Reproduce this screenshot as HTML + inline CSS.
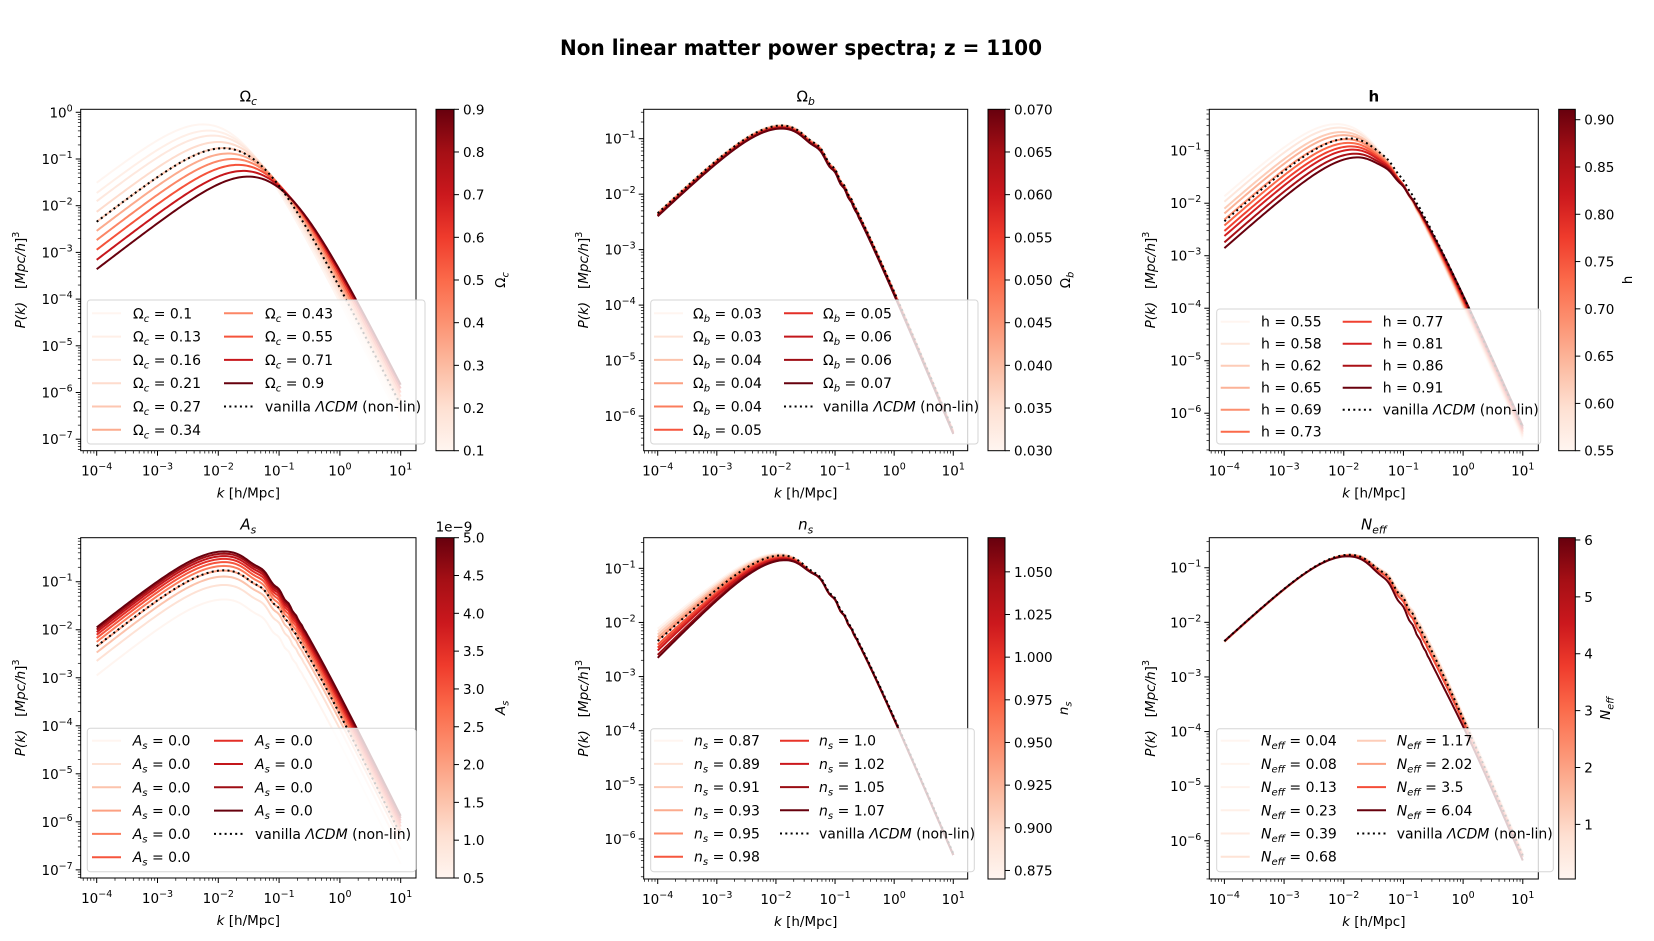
<!DOCTYPE html>
<html><head><meta charset="utf-8"><title>Non linear matter power spectra</title>
<style>
html,body{margin:0;padding:0;background:#fff;}
svg{display:block;font-family:"DejaVu Sans","Liberation Sans",sans-serif;}
</style></head>
<body>
<svg id="fig" width="1654" height="941" viewBox="0 0 1654 941" xmlns="http://www.w3.org/2000/svg">
<defs>
<linearGradient id="redsGrad" x1="0" y1="1" x2="0" y2="0">
<stop offset="0" stop-color="#fff5f0"/><stop offset="0.125" stop-color="#fee0d2"/><stop offset="0.25" stop-color="#fcbba1"/><stop offset="0.375" stop-color="#fc9272"/><stop offset="0.5" stop-color="#fb6a4a"/><stop offset="0.625" stop-color="#ef3b2c"/><stop offset="0.75" stop-color="#cb181d"/><stop offset="0.875" stop-color="#a50f15"/><stop offset="1" stop-color="#67000d"/>
</linearGradient>
</defs>
<text x="801" y="55" text-anchor="middle" font-size="21" font-weight="bold" textLength="482" lengthAdjust="spacingAndGlyphs">Non linear matter power spectra; z = 1100</text>
</svg>
<script>
// ---- data ----
const vanillaPeakK = 0.012;
const vanillaPeakP = 0.17;

const ocValues = [0.1, 0.13, 0.16, 0.21, 0.27, 0.34, 0.43, 0.55, 0.71, 0.9];
const ocPeakK = [0.0056, 0.00687, 0.00808, 0.00998, 0.01215, 0.01453, 0.01744, 0.02114, 0.0258, 0.031];
const ocPeakP = [0.55, 0.405, 0.317, 0.231, 0.172, 0.131, 0.0999, 0.0749, 0.0556, 0.042];

const obValues = [0.030, 0.0344, 0.0389, 0.0433, 0.0478, 0.0522, 0.0567, 0.0611, 0.0656, 0.070];
const obLabels = ['0.03', '0.03', '0.04', '0.04', '0.04', '0.05', '0.05', '0.06', '0.06', '0.07'];
const obPeakK = [0.012, 0.012, 0.012, 0.012, 0.012, 0.012, 0.012, 0.012, 0.012, 0.012];
const obPeakP = [0.175, 0.172, 0.169, 0.166, 0.163, 0.160, 0.157, 0.154, 0.152, 0.150];

const hValues = [0.55, 0.58, 0.62, 0.65, 0.69, 0.73, 0.77, 0.81, 0.86, 0.91];
const hPeakK = [0.0075, 0.00818, 0.00911, 0.00984, 0.01085, 0.01189, 0.01296, 0.01407, 0.01551, 0.0170];
const hPeakP = [0.32, 0.274, 0.226, 0.197, 0.165, 0.140, 0.120, 0.104, 0.087, 0.074];

const asValues = [0.5, 1.0, 1.5, 2.0, 2.5, 3.0, 3.5, 4.0, 4.5, 5.0];
const asPeakK = [0.012, 0.012, 0.012, 0.012, 0.012, 0.012, 0.012, 0.012, 0.012, 0.012];
const asPeakP = [0.042, 0.084, 0.126, 0.168, 0.21, 0.252, 0.294, 0.336, 0.378, 0.42];

const nsValues = [0.87, 0.89, 0.91, 0.93, 0.95, 0.98, 1.0, 1.02, 1.05, 1.07];
const nsLabels = ['0.87', '0.89', '0.91', '0.93', '0.95', '0.98', '1.0', '1.02', '1.05', '1.07'];
const nsPeakK = [0.012, 0.012, 0.012, 0.012, 0.012, 0.012, 0.012, 0.012, 0.012, 0.012];
const nsPeakP = [0.16, 0.16, 0.16, 0.16, 0.16, 0.16, 0.16, 0.16, 0.16, 0.16];

const neffValues = [0.04, 0.08, 0.13, 0.23, 0.39, 0.68, 1.17, 2.02, 3.5, 6.04];
const neffPeakK = [0.0125, 0.0125, 0.0125, 0.0125, 0.0125, 0.0124, 0.0123, 0.0121, 0.0118, 0.0113];
const neffPeakP = [0.17, 0.17, 0.17, 0.17, 0.17, 0.17, 0.17, 0.168, 0.165, 0.16];
const neffDip = [0.03, 0.03, 0.03, 0.03, 0.03, 0.02, 0.01, -0.02, -0.07, -0.15];

const cbTicks1 = [0.1, 0.2, 0.3, 0.4, 0.5, 0.6, 0.7, 0.8, 0.9];
const cbTicks2 = [0.030, 0.035, 0.040, 0.045, 0.050, 0.055, 0.060, 0.065, 0.070];
const cbTicks3 = [0.55, 0.60, 0.65, 0.70, 0.75, 0.80, 0.85, 0.90];
const cbTicks4 = [0.5, 1.0, 1.5, 2.0, 2.5, 3.0, 3.5, 4.0, 4.5, 5.0];
const cbTicks5 = [0.875, 0.900, 0.925, 0.950, 0.975, 1.000, 1.025, 1.050];
const cbTicks6 = [1, 2, 3, 4, 5, 6];

// ---- layout ----
const NS = 'http://www.w3.org/2000/svg';
const svg = document.getElementById('fig');
function mk(tag, attrs, parent) {
  const e = document.createElementNS(NS, tag);
  for (const k in attrs) e.setAttribute(k, attrs[k]);
  (parent || svg).appendChild(e);
  return e;
}
const REDS = ['#fff5f0','#fee0d2','#fcbba1','#fc9272','#fb6a4a','#ef3b2c','#cb181d','#a50f15','#67000d'];
function hex(c){return [parseInt(c.slice(1,3),16),parseInt(c.slice(3,5),16),parseInt(c.slice(5,7),16)];}
function reds(t){
  t=Math.max(0,Math.min(1,t)); const p=t*8; const i=Math.min(7,Math.floor(p)); const f=p-i;
  const a=hex(REDS[i]), b=hex(REDS[i+1]);
  return 'rgb('+a.map((v,j)=>Math.round(v+(b[j]-v)*f)).join(',')+')';
}
// spectrum shape (broken power law in log space)
const S1 = 1.0, S2 = -2.55;
function sp(u){return Math.log10(1+Math.pow(10,u));}
const X0 = -Math.log10((S1/(S1-S2))/(1-S1/(S1-S2)));
const F0 = -(S1-S2)*sp(-X0);
function logP(k, kp, Pp, opt){
  const x = Math.log10(k/kp);
  let f = S1*x - (S1-S2)*sp(x - X0) - F0;
  let v = Math.log10(Pp) + f;
  if (opt.ns !== undefined) v += (opt.ns-0.965)*Math.min(0, Math.log10(k/0.05));
  if (opt.dip) v += opt.dip*Math.exp(-Math.pow((Math.log10(k)+0.6)/0.6,2));
  if (opt.wig) v += opt.wig*Math.sin(2*Math.PI*k/0.045)*Math.exp(-Math.pow(k/0.2,2))*(1-Math.exp(-Math.pow(k/0.025,2)));
  return v;
}

const panels = [
 {id:'omega-c', L:80.7,R:416,T:109.3,B:450.7, xl:-4.263,xr:1.252, yb:-7.246,yt:0.064,
  vals:ocValues, pk:ocPeakK, pp:ocPeakP, vmin:0.1,vmax:0.9, lab:v=>String(v), sym:'Oc', wig:0,
  cb:[436,454], cbT:cbTicks1, cbF:v=>v.toFixed(1), cbLx:500,
  leg:{x:87.3,y:300,w:337.7,h:144,l1:92,t1:133,l2:224,t2:265,r0:313.3,dr:23.3}, ylx:20},
 {id:'omega-b', L:643.7,R:967.7,T:109.3,B:450.7, xl:-4.237,xr:1.244, yb:-6.625,yt:-0.47,
  vals:obValues, pk:obPeakK, pp:obPeakP, vmin:0.03,vmax:0.07, lab:(v,i)=>obLabels[i], sym:'Ob', wig:0.035, idxColor:true,
  cb:[988,1005], cbT:cbTicks2, cbF:v=>v.toFixed(3), cbLx:1065,
  leg:{x:650.7,y:300,w:327.3,h:144,l1:654,t1:693,l2:784,t2:823,r0:313.3,dr:23.3}, ylx:583},
 {id:'h', L:1209.3,R:1538.3,T:109.3,B:450.7, xl:-4.253,xr:1.26, yb:-6.714,yt:-0.211,
  vals:hValues, pk:hPeakK, pp:hPeakP, vmin:0.55,vmax:0.911, lab:v=>v.toFixed(2), sym:'h', wig:0.015,
  cb:[1558.7,1575.3], cbT:cbTicks3, cbF:v=>v.toFixed(2), cbLx:1627,
  leg:{x:1216.7,y:309,w:324,h:135,l1:1220.7,t1:1261,l2:1342.7,t2:1382.7,r0:321.7,dr:22}, ylx:1150},
 {id:'a-s', L:80.7,R:416,T:537.7,B:878, xl:-4.263,xr:1.252, yb:-7.17,yt:-0.083,
  vals:asValues, pk:asPeakK, pp:asPeakP, vmin:0.5,vmax:5.0, lab:v=>'0.0', sym:'As', wig:0.035,
  cb:[436,454], cbT:cbTicks4, cbF:v=>v.toFixed(1), cbLx:500, exp:true,
  leg:{x:87.3,y:728.3,w:328.4,h:143.4,l1:92,t1:132.7,l2:214,t2:255,r0:740.7,dr:23.3}, ylx:20},
 {id:'n-s', L:643.7,R:967.7,T:537.7,B:879, xl:-4.237,xr:1.244, yb:-6.74,yt:-0.434,
  vals:nsValues, pk:nsPeakK, pp:nsPeakP, vmin:0.87,vmax:1.07, lab:(v,i)=>nsLabels[i], sym:'ns', wig:0.035, tilt:true,
  cb:[988,1005], cbT:cbTicks5, cbF:v=>v.toFixed(3), cbLx:1063,
  leg:{x:650.7,y:728.7,w:323.6,h:143,l1:654,t1:694,l2:780,t2:819,r0:740.7,dr:23.2}, ylx:583},
 {id:'n-eff', L:1209.3,R:1538.3,T:537.7,B:879, xl:-4.253,xr:1.26, yb:-6.70,yt:-0.45,
  vals:neffValues, pk:neffPeakK, pp:neffPeakP, vmin:0.04,vmax:6.04, lab:v=>String(v), sym:'Neff', wig:0.035, dip:neffDip,
  cb:[1558.7,1575.3], cbT:cbTicks6, cbF:v=>String(v), cbLx:1605,
  leg:{x:1216.7,y:728.7,w:336.6,h:143,l1:1220.7,t1:1261,l2:1357,t2:1396.7,r0:740.7,dr:23.2}, ylx:1150}
];

function symSpans(t, sym, size){
  // appends math symbol spans to text element t
  const sub = size*0.72;
  function add(txt, attrs){const s=mk('tspan',attrs,t); s.textContent=txt; return s;}
  if (sym==='Oc'||sym==='Ob'){ add('Ω',{}); add(sym==='Oc'?'c':'b',{'font-style':'italic','font-size':sub,dy:size*0.25}); return size*0.25; }
  if (sym==='As'){ add('A',{'font-style':'italic'}); add('s',{'font-style':'italic','font-size':sub,dy:size*0.25}); return size*0.25; }
  if (sym==='ns'){ add('n',{'font-style':'italic'}); add('s',{'font-style':'italic','font-size':sub,dy:size*0.25}); return size*0.25; }
  if (sym==='Neff'){ add('N',{'font-style':'italic'}); add('eff',{'font-style':'italic','font-size':sub,dy:size*0.25}); return size*0.25; }
  add('h',{}); return 0;
}

panels.forEach((p, pi) => {
  const g = mk('g', {});
  
  
  const X = lk => p.L + (lk - p.xl) / (p.xr - p.xl) * (p.R - p.L);
  const Y = lp => p.B - (lp - p.yb) / (p.yt - p.yb) * (p.B - p.T);
  const clipId = 'clip' + pi;
  const cp = mk('clipPath', {id: clipId}, g);
  mk('rect', {x:p.L, y:p.T, width:p.R-p.L, height:p.B-p.T}, cp);

  // title
  const tt = mk('text', {x:(p.L+p.R)/2, y:p.T-8, 'text-anchor':'middle', 'font-size':15, 'font-weight': p.sym==='h'?'bold':'normal'}, g);
  
  
  symSpans(tt, p.sym, 15);

  // curves
  const curves = mk('g', {'clip-path':'url(#'+clipId+')'}, g);
  
  
  const N = 160;
  const colors = [];
  p.vals.forEach((v, i) => {
    const t = p.idxColor ? i/(p.vals.length-1) : (v - p.vmin)/(p.vmax - p.vmin);
    const col = reds(t); colors.push(col);
    const opt = {wig:p.wig};
    if (p.tilt) opt.ns = v;
    if (p.dip) opt.dip = p.dip[i];
    let d = '';
    for (let j=0;j<=N;j++){
      const lk = -4 + 5*j/N; const k = Math.pow(10, lk);
      d += (j?'L':'M') + X(lk).toFixed(2) + ',' + Y(logP(k, p.pk[i], p.pp[i], opt)).toFixed(2);
    }
    const path = mk('path', {d:d, fill:'none', stroke:col, 'stroke-width':2}, curves);
    
    
  });
  // vanilla
  {
    let d='';
    const opt={wig:p.wig};
    if (p.tilt) opt.ns = 0.965;
    for (let j=0;j<=N;j++){
      const lk=-4+5*j/N; const k=Math.pow(10,lk);
      d += (j?'L':'M') + X(lk).toFixed(2) + ',' + Y(logP(k, vanillaPeakK, vanillaPeakP, opt)).toFixed(2);
    }
    const vp = mk('path', {d:d, fill:'none', stroke:'#000', 'stroke-width':2, 'stroke-dasharray':'2,3.3'}, curves);
    
    
  }

  // axes frame
  const fr = mk('rect', {x:p.L, y:p.T, width:p.R-p.L, height:p.B-p.T, fill:'none', stroke:'#000', 'stroke-width':1}, g);
  
  

  // x ticks
  const xt = mk('g', {}, g);
  
  
  for (let n=-5;n<=1;n++){
    for (let m=1;m<=9;m++){
      const lk = n + Math.log10(m);
      if (lk < p.xl || lk > p.xr) continue;
      const x = X(lk); const len = m===1?5:2.8;
      mk('line', {x1:x, y1:p.B, x2:x, y2:p.B+len, stroke:'#000', 'stroke-width': m===1?1:0.7}, xt);
      if (m===1){
        const lb = mk('text', {x:x, y:p.B+25, 'text-anchor':'middle', 'font-size':13.5}, xt);
        
        
        const a = mk('tspan', {}, lb); a.textContent = '10';
        const b = mk('tspan', {'font-size':9.5, dy:-6}, lb); b.textContent = n<0 ? '−'+(-n) : String(n);
      }
    }
  }
  const xlab = mk('text', {x:(p.L+p.R)/2, y:p.B+47, 'text-anchor':'middle', 'font-size':13.5}, g);
  
  
  { const a=mk('tspan',{'font-style':'italic'},xlab); a.textContent='k'; const b=mk('tspan',{},xlab); b.textContent=' [h/Mpc]'; }

  // y ticks
  const yt = mk('g', {}, g);
  
  
  for (let n=-8;n<=0;n++){
    for (let m=1;m<=9;m++){
      const lp = n + Math.log10(m);
      if (lp < p.yb || lp > p.yt) continue;
      const y = Y(lp); const len = m===1?5:2.8;
      mk('line', {x1:p.L-len, y1:y, x2:p.L, y2:y, stroke:'#000', 'stroke-width': m===1?1:0.7}, yt);
      if (m===1){
        const lb = mk('text', {x:p.L-8, y:y+5, 'text-anchor':'end', 'font-size':13.5}, yt);
        
        
        const a = mk('tspan', {}, lb); a.textContent = '10';
        const b = mk('tspan', {'font-size':9.5, dy:-6}, lb); b.textContent = n<0 ? '−'+(-n) : String(n);
      }
    }
  }
  const yc = (p.T+p.B)/2;
  const ylab = mk('text', {x:0, y:0, transform:'translate('+(p.ylx+5)+','+yc+') rotate(-90)', 'text-anchor':'middle', 'font-size':13.5}, g);
  
  
  { const a=mk('tspan',{'font-style':'italic'},ylab); a.textContent='P(k)';
    const b=mk('tspan',{},ylab); b.textContent='\u00a0\u00a0\u00a0[';
    const c=mk('tspan',{'font-style':'italic'},ylab); c.textContent='Mpc/h';
    const d=mk('tspan',{},ylab); d.textContent=']';
    const e=mk('tspan',{'font-size':9.5,dy:-6},ylab); e.textContent='3'; }

  // legend
  const L = p.leg;
  const lg = mk('g', {}, g);
  
  
  mk('rect', {x:L.x, y:L.y, width:L.w, height:L.h, rx:3, fill:'rgba(255,255,255,0.8)', stroke:'#d6d6d6', 'stroke-width':1}, lg);
  p.vals.forEach((v,i)=>{
    const col = i<6?0:1; const row = i<6?i:i-6;
    const lx = col?L.l2:L.l1, tx = col?L.t2:L.t1, ry = L.r0 + row*L.dr;
    const en = mk('g', {}, lg);
    
    
    mk('line', {x1:lx, y1:ry, x2:lx+29, y2:ry, stroke:colors[i], 'stroke-width':2}, en);
    const t = mk('text', {x:tx, y:ry+5, 'font-size':14}, en);
    const dy = symSpans(t, p.sym, 14);
    const r = mk('tspan', {dy:-dy}, t); r.textContent = ' = ' + p.lab(v,i);
  });
  {
    const ry = L.r0 + 4*L.dr;
    const en = mk('g', {}, lg);
    
    
    mk('line', {x1:L.l2, y1:ry, x2:L.l2+29, y2:ry, stroke:'#000', 'stroke-width':2, 'stroke-dasharray':'2,3.3'}, en);
    const t = mk('text', {x:L.t2, y:ry+5, 'font-size':14}, en);
    const a=mk('tspan',{},t); a.textContent='vanilla ';
    const b=mk('tspan',{'font-style':'italic'},t); b.textContent='ΛCDM';
    const c=mk('tspan',{},t); c.textContent=' (non-lin)';
  }

  // colorbar
  const cbg = mk('g', {}, g);
  
  
  mk('rect', {x:p.cb[0], y:p.T, width:p.cb[1]-p.cb[0], height:p.B-p.T, fill:'url(#redsGrad)', stroke:'#000', 'stroke-width':1}, cbg);
  const CY = v => p.B - (v - p.vmin)/(p.vmax - p.vmin)*(p.B - p.T);
  p.cbT.forEach(v=>{
    const y = CY(v);
    mk('line', {x1:p.cb[1], y1:y, x2:p.cb[1]+5, y2:y, stroke:'#000', 'stroke-width':1}, cbg);
    const t = mk('text', {x:p.cb[1]+9, y:y+5, 'font-size':13.5}, cbg);
    
    
    t.textContent = p.cbF(v);
  });
  if (p.exp){
    const t = mk('text', {x:p.cb[1], y:p.T-6, 'text-anchor':'middle', 'font-size':13.5}, cbg);
    
    
    t.textContent = '1e−9';
  }
  const cl = mk('text', {x:0, y:0, transform:'translate('+(p.cbLx+5)+','+yc+') rotate(-90)', 'text-anchor':'middle', 'font-size':13.5}, cbg);
  
  
  symSpans(cl, p.sym, 13.5);
});
</script>
</body></html>
